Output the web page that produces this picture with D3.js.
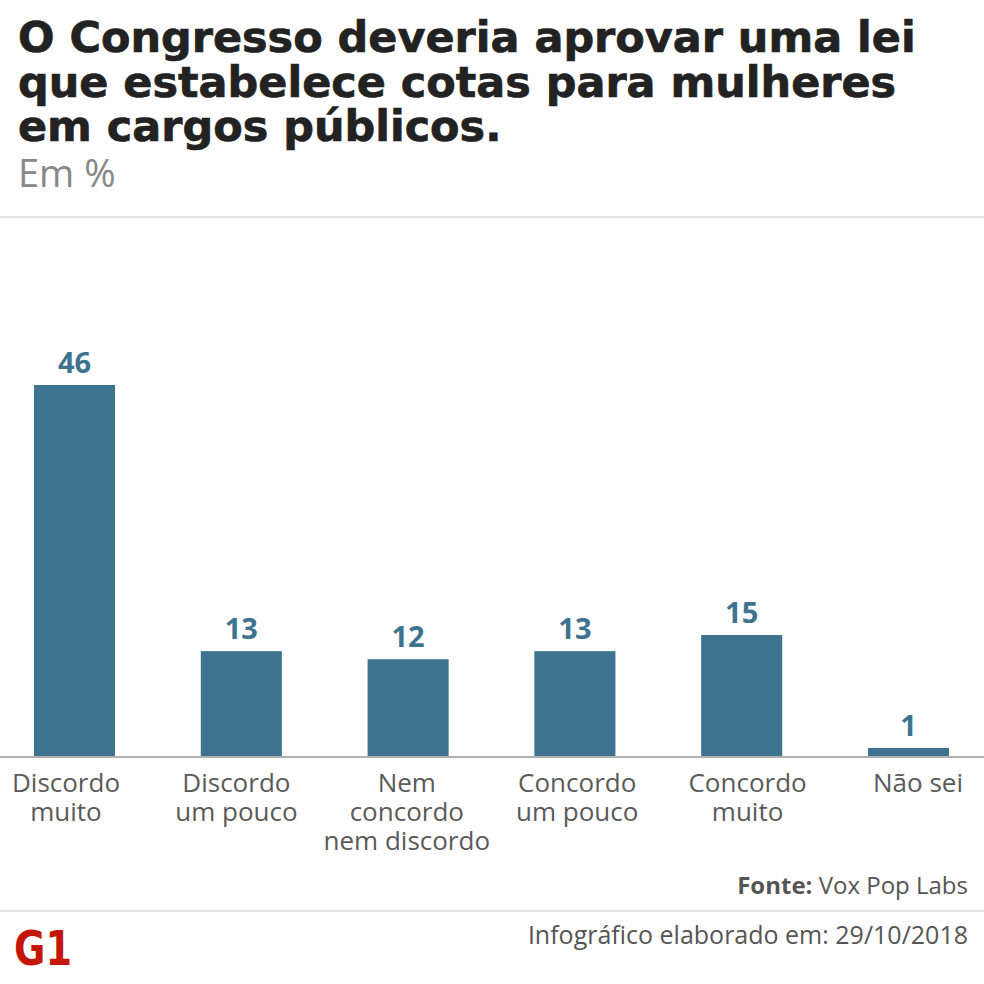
<!DOCTYPE html>
<html>
<head>
<meta charset="utf-8">
<script src="https://cdn.jsdelivr.net/npm/d3@7"></script>
<style>
  html, body { margin: 0; padding: 0; background: #fff; }
  svg { display: block; }
</style>
</head>
<body>
<script>
const titleLines = ["O Congresso deveria aprovar uma lei", "que estabelece cotas para mulheres", "em cargos públicos."];
const subtitle = "Em %";
const categories = [
  ["Discordo", "muito"],
  ["Discordo", "um pouco"],
  ["Nem", "concordo", "nem discordo"],
  ["Concordo", "um pouco"],
  ["Concordo", "muito"],
  ["Não sei"]
];
const values = [46, 13, 12, 13, 15, 1];
const sourceLabel = "Fonte:";
const sourceText = " Vox Pop Labs";
const footerText = "Infográfico elaborado em: 29/10/2018";

const W = 984, H = 984;
const svg = d3.select("body").append("svg").attr("width", W).attr("height", H);

// Title
const title = svg.append("text")
  .attr("x", 18).attr("y", 52)
  .style("font-family", "'DejaVu Sans', sans-serif")
  .style("font-weight", 700)
  .style("font-size", "40px")
  .attr("fill", "#222")
  .attr("stroke", "#222")
  .attr("stroke-width", 0.7);
title.selectAll("tspan").data(titleLines).join("tspan")
  .attr("x", 18).attr("dy", (d, i) => i === 0 ? 0 : 44.5)
  .text(d => d);
// fit first line to reference width
const l1 = title.select("tspan").node().getComputedTextLength();
const fs = Math.min(44, 40 * 898 / l1);
title.style("font-size", fs + "px");

svg.append("text")
  .attr("x", 18).attr("y", 187)
  .style("font-family", "'Open Sans', sans-serif")
  .style("font-size", "38px")
  .attr("fill", "#888")
  .text(subtitle);

// top separator
svg.append("rect").attr("x", 0).attr("y", 216).attr("width", W).attr("height", 2).attr("fill", "#e3e3e3");

// scales
const x = d3.scaleBand().domain(d3.range(values.length)).range([34, 949]).paddingInner(0.514).paddingOuter(0);
const xLabel = d3.scalePoint().domain(d3.range(values.length)).range([66, 918]);
const y = d3.scaleLinear().domain([0, 46]).range([756, 385]);

const barColor = "#3e7390";

svg.append("g").selectAll("rect").data(values).join("rect")
  .attr("x", (d, i) => x(i))
  .attr("y", d => y(d))
  .attr("width", x.bandwidth())
  .attr("height", d => y(0) - y(d))
  .attr("fill", barColor);

svg.append("g").selectAll("text").data(values).join("text")
  .attr("x", (d, i) => x(i) + x.bandwidth() / 2)
  .attr("y", d => y(d) - 12)
  .attr("text-anchor", "middle")
  .style("font-family", "'Open Sans', sans-serif")
  .style("font-weight", 700)
  .style("font-size", "29px")
  .attr("fill", barColor)
  .text(d => d);

// baseline
svg.append("line").attr("x1", 0).attr("x2", W).attr("y1", y(0) + 1).attr("y2", y(0) + 1)
  .attr("stroke", "#b0b0b0").attr("stroke-width", 2);

// category labels
const catG = svg.append("g");
categories.forEach((lines, i) => {
  const t = catG.append("text")
    .attr("x", xLabel(i))
    .attr("y", 792)
    .attr("text-anchor", "middle")
    .style("font-family", "'Open Sans', sans-serif")
    .style("font-size", "26px")
    .attr("fill", "#5a5a5a");
  t.selectAll("tspan").data(lines).join("tspan")
    .attr("x", xLabel(i))
    .attr("dy", (d, j) => j === 0 ? 0 : 29)
    .text(d => d);
});

// source
const src = svg.append("text")
  .attr("x", 968).attr("y", 894)
  .attr("text-anchor", "end")
  .style("font-family", "'Open Sans', sans-serif")
  .style("font-size", "24px")
  .attr("fill", "#555");
src.append("tspan").style("font-weight", 700).text(sourceLabel);
src.append("tspan").text(sourceText);

svg.append("rect").attr("x", 0).attr("y", 910).attr("width", W).attr("height", 2).attr("fill", "#e3e3e3");

svg.append("text")
  .attr("x", 968).attr("y", 944)
  .attr("text-anchor", "end")
  .style("font-family", "'Open Sans', sans-serif")
  .style("font-size", "25px")
  .attr("fill", "#555")
  .text(footerText);

// G1 logo
svg.append("text")
  .attr("x", 14).attr("y", 965)
  .style("font-family", "'DejaVu Sans', sans-serif")
  .style("font-weight", 700)
  .style("font-size", "48px")
  .attr("fill", "#c4170c")
  .attr("textLength", 58)
  .attr("lengthAdjust", "spacingAndGlyphs")
  .text("G1");
</script>
</body>
</html>
